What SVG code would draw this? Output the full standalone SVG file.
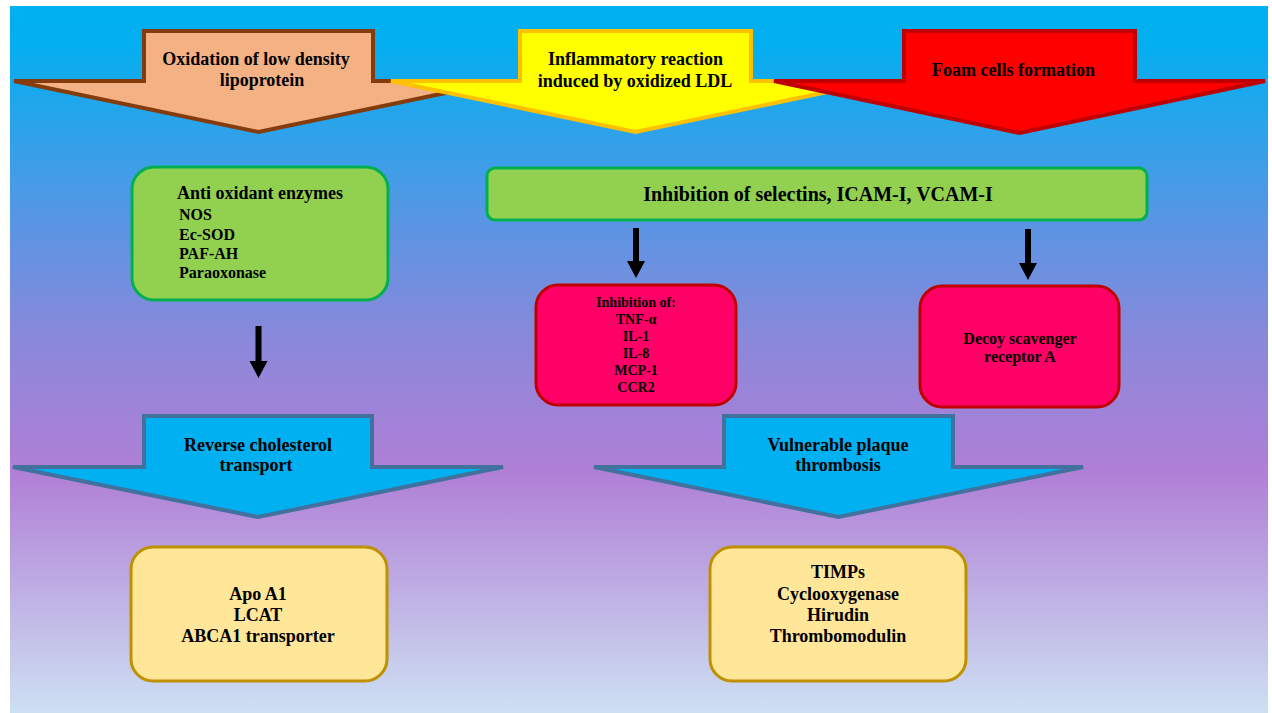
<svg xmlns="http://www.w3.org/2000/svg" width="1272" height="713" viewBox="0 0 1272 713">
<defs>
<linearGradient id="bg" x1="0" y1="0" x2="0" y2="1">
<stop offset="0" stop-color="#00b0f0"/>
<stop offset="0.05" stop-color="#02aff0"/>
<stop offset="0.3" stop-color="#5796e4"/>
<stop offset="0.47" stop-color="#8a88da"/>
<stop offset="0.66" stop-color="#b07fd6"/>
<stop offset="1" stop-color="#cde0f2"/>
</linearGradient>
</defs>
<style>
text{font-family:"Liberation Serif","Times New Roman",serif;font-weight:bold;fill:#000}
.c{text-anchor:middle}
.bigarrow{stroke-width:4;stroke-linejoin:miter}
.blue{fill:#00b0f0;stroke:#41719c}
.green{fill:#92d050;stroke:#00b050;stroke-width:3}
.red{fill:#ff0066;stroke:#c00000;stroke-width:3}
.yel{fill:#ffe699;stroke:#bf9000;stroke-width:3}
.conn{fill:#000}
</style>
<rect x="10" y="6" width="1258" height="707" fill="url(#bg)"/>

<g id="oxidation">
<path class="bigarrow" fill="#f4b183" stroke="#843c0c" d="M144,31 H373 V81 H503 L258.5,132 L14,81 H144 Z"/>
<text class="c" x="256" y="65" font-size="18">Oxidation of low density</text>
<text class="c" x="262" y="86" font-size="18">lipoprotein</text>
</g>
<g id="inflammatory">
<path class="bigarrow" fill="#ffff00" stroke="#ffc000" d="M520,31 H751 V81 H880 L635.5,132 L391,81 H520 Z"/>
<text class="c" x="635.5" y="65" font-size="18">Inflammatory reaction</text>
<text class="c" x="635" y="87" font-size="18">induced by oxidized LDL</text>
</g>
<g id="foam">
<path class="bigarrow" fill="#ff0000" stroke="#c00000" d="M904,31 H1135 V81 H1265 L1019.5,133 L774,81 H904 Z"/>
<text class="c" x="1013.5" y="76" font-size="18">Foam cells formation</text>
</g>

<g id="antioxidant">
<rect class="green" x="132" y="167" width="256" height="133" rx="22"/>
<text x="177" y="199" font-size="18">Anti oxidant enzymes</text>
<text x="179" y="220" font-size="16">NOS</text>
<text x="179" y="240" font-size="16">Ec-SOD</text>
<text x="179" y="259" font-size="16">PAF-AH</text>
<text x="179" y="278" font-size="16">Paraoxonase</text>
</g>
<g id="selectins">
<rect class="green" x="487" y="168" width="660" height="52" rx="8"/>
<text class="c" x="818" y="201" font-size="20">Inhibition of selectins, ICAM-I, VCAM-I</text>
</g>
<g id="cytokines">
<rect class="red" x="536" y="285" width="200" height="120" rx="22"/>
<text class="c" x="636" y="307" font-size="14">Inhibition of:</text>
<text class="c" x="636" y="324" font-size="14">TNF-α</text>
<text class="c" x="636" y="341" font-size="14">IL-1</text>
<text class="c" x="636" y="358" font-size="14">IL-8</text>
<text class="c" x="636" y="375" font-size="14">MCP-1</text>
<text class="c" x="636" y="392" font-size="14">CCR2</text>
</g>
<g id="decoy">
<rect class="red" x="920" y="286" width="199" height="121" rx="22"/>
<text class="c" x="1020" y="344" font-size="16">Decoy scavenger</text>
<text class="c" x="1020" y="362" font-size="16">receptor A</text>
</g>

<g id="reverse">
<path class="bigarrow blue" d="M144,416 H372 V467 H503 L258,517 L13,467 H144 Z"/>
<text class="c" x="258" y="451" font-size="18">Reverse cholesterol</text>
<text class="c" x="256" y="471" font-size="18">transport</text>
</g>
<g id="vulnerable">
<path class="bigarrow blue" d="M724,416 H953 V467 H1083 L838.5,517 L594,467 H724 Z"/>
<text class="c" x="838" y="451" font-size="18">Vulnerable plaque</text>
<text class="c" x="838" y="471" font-size="18">thrombosis</text>
</g>

<g id="apo">
<rect class="yel" x="131" y="547" width="256" height="134" rx="22"/>
<text class="c" x="258" y="600" font-size="18">Apo A1</text>
<text class="c" x="258" y="621" font-size="18">LCAT</text>
<text class="c" x="258" y="642" font-size="18">ABCA1 transporter</text>
</g>
<g id="timps">
<rect class="yel" x="710" y="547" width="256" height="134" rx="22"/>
<text class="c" x="838" y="578" font-size="18">TIMPs</text>
<text class="c" x="838" y="600" font-size="18">Cyclooxygenase</text>
<text class="c" x="838" y="621" font-size="18">Hirudin</text>
<text class="c" x="838" y="642" font-size="18">Thrombomodulin</text>
</g>

<g id="connectors">
<path class="conn" d="M255.5,326 V361 H249.5 L258.5,378 L267.5,361 H261.5 V326 Z"/>
<path class="conn" d="M633,228 V261 H627 L636,278 L645,261 H639 V228 Z"/>
<path class="conn" d="M1025,229 V263 H1019 L1028,280 L1037,263 H1031 V229 Z"/>
</g>
</svg>
